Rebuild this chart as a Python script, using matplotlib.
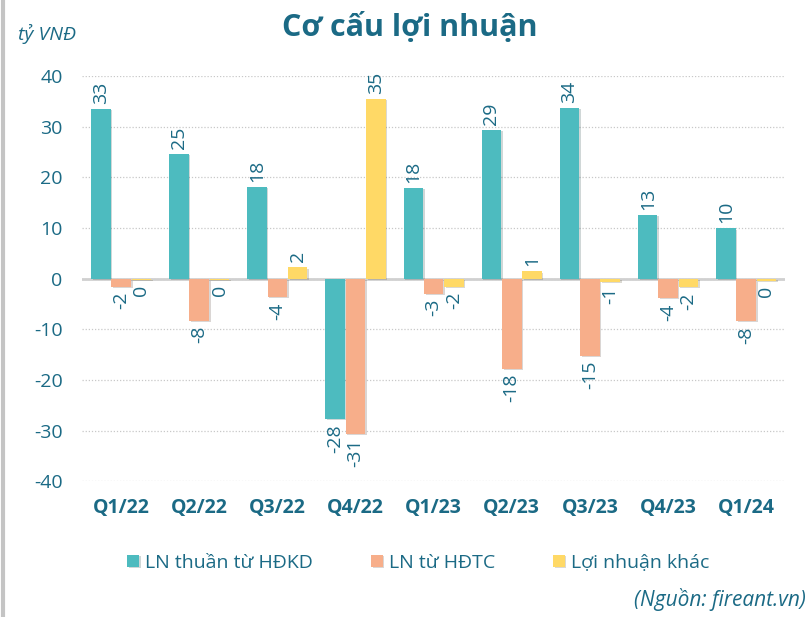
import matplotlib.pyplot as plt
import matplotlib.patheffects as pe
import numpy as np

plt.rcParams['font.family'] = ['Open Sans', 'DejaVu Sans']
plt.rcParams['axes.unicode_minus'] = False

quarters = ['Q1/22', 'Q2/22', 'Q3/22', 'Q4/22', 'Q1/23', 'Q2/23', 'Q3/23', 'Q4/23', 'Q1/24']
ln_hdkd = [33.4, 24.6, 18.0, -27.7, 17.8, 29.4, 33.6, 12.6, 9.9]
ln_hdtc = [-1.6, -8.3, -3.7, -30.6, -3.0, -17.8, -15.2, -3.9, -8.4]
ln_khac = [-0.2, -0.3, 2.2, 35.4, -1.6, 1.4, -0.6, -1.7, -0.4]
series_names = ['LN thuần từ HĐKD', 'LN từ HĐTC', 'Lợi nhuận khác']

colors = ['#4dbbbf', '#f7ae8a', '#ffd966']
txt = '#1b6a85'

fig = plt.figure(figsize=(8.12, 6.17), dpi=100)
ax = fig.add_axes([0.101, 0.220, 0.866, 0.657])

x = np.arange(len(quarters))
w = 0.25
offsets = [-0.26, 0.0, 0.26]
shadow = [pe.SimplePatchShadow(offset=(1.2, -0.8), alpha=0.2), pe.Normal()]

for vals, off, col, name in zip([ln_hdkd, ln_hdtc, ln_khac], offsets, colors, series_names):
    bars = ax.bar(x + off, vals, w, color=col, label=name, zorder=3)
    for b in bars:
        b.set_path_effects(shadow)
    for xi, v in zip(x + off, vals):
        lab = str(int(round(v)))
        if v >= 0:
            ax.text(xi, v + 1, lab, rotation=90, ha='center', va='bottom',
                    fontsize=14, color=txt)
        else:
            ax.text(xi, v - 1, lab, rotation=90, ha='center', va='top',
                    fontsize=14, color=txt)

ax.set_xlim(-0.5, len(quarters) - 0.5)
ax.set_ylim(-40, 40)
ax.set_yticks(range(-40, 41, 10))
ax.yaxis.grid(True, linestyle=(0, (1, 1.5)), color='#c8c8c8', linewidth=0.9, zorder=0)
ax.axhline(0, color='#d0d0d0', linewidth=2, zorder=2)
ax.set_xticks(x)
ax.set_xticklabels(quarters, fontweight='bold')
ax.tick_params(axis='both', length=0, labelsize=14, colors=txt)
ax.tick_params(axis='x', pad=12)
ax.tick_params(axis='y', pad=14)
for s in ax.spines.values():
    s.set_visible(False)

fig.text(0.505, 0.955, 'Cơ cấu lợi nhuận', ha='center', va='center',
         fontsize=22, fontweight='bold', color=txt)
fig.text(0.022, 0.945, 'tỷ VNĐ', ha='left', va='center', fontsize=14,
         style='italic', color=txt)
fig.text(0.993, 0.028, '(Nguồn: fireant.vn)', ha='right', va='center',
         fontsize=15, style='italic', color=txt)

leg = fig.legend(loc='center', bbox_to_anchor=(0.515, 0.088), ncol=3, frameon=False,
                 fontsize=14, handlelength=0.6, handleheight=0.6, handletextpad=0.3,
                 columnspacing=3.0)
for t in leg.get_texts():
    t.set_color(txt)

fig.add_artist(plt.Line2D([0.004, 0.004], [0, 1], transform=fig.transFigure,
                          color='#c4c4c4', linewidth=3))

plt.savefig('out.png', dpi=100)
plt.close()
